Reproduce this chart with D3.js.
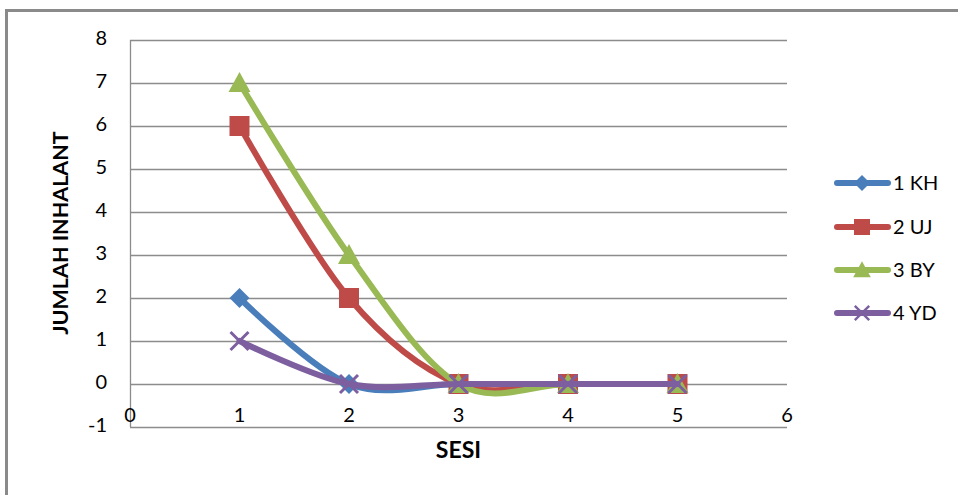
<!DOCTYPE html>
<html><head><meta charset="utf-8">
<script src="https://cdn.jsdelivr.net/npm/d3@7"></script>
<style>body{margin:0;background:#fff}svg{display:block}text{font-family:Lato,"Open Sans",sans-serif}</style>
</head><body>
<script>
const sesi = [1,2,3,4,5];
const seriesNames = ["1 KH","2 UJ","3 BY","4 YD"];
const kh = [2,0,0,0,0];
const uj = [6,2,0,0,0];
const by = [7,3,0,0,0];
const yd = [1,0,0,0,0];
const xTicks = [0,1,2,3,4,5,6];
const yTicks = [-1,0,1,2,3,4,5,6,7,8];
const colors = ["#4A7EBB","#BE4B48","#98B954","#7D5FA0"];
const markers = ["diamond","square","triangle","x"];
const allSeries = [kh,uj,by,yd];

const W=958,H=495;
const svg=d3.select("body").append("svg").attr("width",W).attr("height",H);
svg.append("rect").attr("x",6.5).attr("y",10.5).attr("width",1000).attr("height",1000)
  .attr("fill","none").attr("stroke","#8a8a8a").attr("stroke-width",3);

const x=d3.scaleLinear().domain([0,6]).range([130,787]);
const y=d3.scaleLinear().domain([-1,8]).range([427,40]);

// gridlines
svg.append("g").selectAll("line").data(yTicks).join("line")
  .attr("x1",x(0)).attr("x2",x(6)).attr("y1",d=>Math.round(y(d))+0.5).attr("y2",d=>Math.round(y(d))+0.5)
  .attr("stroke","#8c8c8c").attr("stroke-width",1.3);
svg.append("line").attr("x1",x(0)+0.5).attr("x2",x(0)+0.5).attr("y1",y(8)).attr("y2",y(-1))
  .attr("stroke","#8c8c8c").attr("stroke-width",1.3);

// y tick labels
svg.append("g").selectAll("text").data(yTicks).join("text")
  .attr("x",107).attr("y",d=>y(d)-2).attr("dy","0.36em").attr("text-anchor","end")
  .attr("font-size",20).attr("fill","#000").text(d=>d);
// x tick labels
svg.append("g").selectAll("text").data(xTicks).join("text")
  .attr("x",d=>x(d)).attr("y",415).attr("dy","0.36em").attr("text-anchor","middle")
  .attr("font-size",20).attr("fill","#000").text(d=>d);

svg.append("text").attr("x",x(3)).attr("y",450).attr("dy","0.36em").attr("text-anchor","middle")
  .attr("font-size",23).attr("font-weight","bold").text("SESI");
svg.append("text").attr("transform","translate(60,233) rotate(-90)").attr("dy","0.36em")
  .attr("text-anchor","middle").attr("font-size",21.5).attr("font-weight","bold").text("JUMLAH INHALANT");

function markerPath(type){
  switch(type){
    case "diamond": return "M0,-10L10,0L0,10L-10,0Z";
    case "square": return "M-10,-10H10V10H-10Z";
    case "triangle": return "M0,-11L11,9H-11Z";
    default: return "M-9,-9L9,9M9,-9L-9,9";
  }
}
function drawMarker(g,type,color){
  const p=g.append("path").attr("d",markerPath(type));
  if(type==="x") p.attr("fill","none").attr("stroke",color).attr("stroke-width",3);
  else p.attr("fill",color);
}

const line=d3.line().x(d=>x(d[0])).y(d=>y(d[1])).curve(d3.curveCardinal.tension(0));
allSeries.forEach((vals,i)=>{
  const pts=sesi.map((s,j)=>[s,vals[j]]);
  const g=svg.append("g");
  g.append("path").attr("d",line(pts)).attr("fill","none").attr("stroke",colors[i])
    .attr("stroke-width",6).attr("stroke-linejoin","round").attr("stroke-linecap","round");
  pts.forEach(p=>{
    const mg=g.append("g").attr("transform",`translate(${x(p[0])},${y(p[1])})`);
    drawMarker(mg,markers[i],colors[i]);
  });
});

// legend
const legY=[183,227,270,313];
seriesNames.forEach((n,i)=>{
  const g=svg.append("g");
  g.append("line").attr("x1",837).attr("x2",888).attr("y1",legY[i]).attr("y2",legY[i])
    .attr("stroke",colors[i]).attr("stroke-width",6).attr("stroke-linecap","round");
  const mg=g.append("g").attr("transform",`translate(862,${legY[i]}) scale(0.8)`);
  drawMarker(mg,markers[i],colors[i]);
  g.append("text").attr("x",893).attr("y",legY[i]).attr("dy","0.36em").attr("font-size",20).text(n);
});
</script>
</body></html>
